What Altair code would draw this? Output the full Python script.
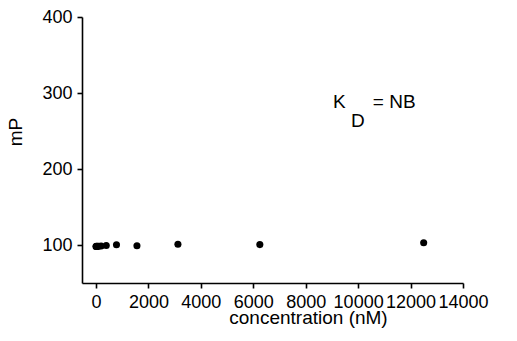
import altair as alt
import pandas as pd

conc = [0, 12.2, 24.4, 48.8, 97.7, 195.3, 390.6, 781.3, 1562.5, 3125, 6250, 12500]
mp = [98.0, 98.2, 98.0, 98.3, 98.2, 98.8, 99.3, 100.4, 99.1, 100.9, 100.5, 103.0]

x_ticks = list(range(0, 14001, 2000))
y_ticks = [100, 200, 300, 400]

ann_x = [9040, 9730, 10560]
ann_y = [280.3, 255.3, 280.3]
ann_t = ["K", "D", "= NB"]

df = pd.DataFrame({"conc": conc, "mp": mp})
ann = pd.DataFrame({"x": ann_x, "y": ann_y, "t": ann_t})

font = "Liberation Sans"

xscale = alt.Scale(domain=[-534, 14000], nice=False, zero=False)
yscale = alt.Scale(domain=[50, 400], nice=False, zero=False)

points = alt.Chart(df).mark_circle(size=50, color="black", opacity=1).encode(
    x=alt.X("conc:Q", scale=xscale, title="concentration (nM)",
            axis=alt.Axis(values=x_ticks, format="d", labelFlush=False,
                          labelOverlap=False, titleX=226, titleY=40,
                          titleAlign="center", titleBaseline="alphabetic")),
    y=alt.Y("mp:Q", scale=yscale, title="mP",
            axis=alt.Axis(values=y_ticks, format="d", titleX=-61, titleY=114.5,
                          titleAlign="center", titleBaseline="alphabetic")),
)

text = alt.Chart(ann).mark_text(align="left", baseline="alphabetic", fontSize=19,
                                font=font, color="black").encode(
    x=alt.X("x:Q", scale=xscale),
    y=alt.Y("y:Q", scale=yscale),
    text="t:N",
)

chart = (points + text).properties(
    width=381, height=266,
    autosize=alt.AutoSizeParams(type="none"),
    padding={"left": 82, "top": 17, "right": 54, "bottom": 58},
    background="white",
).configure_view(stroke=None).configure_axis(
    grid=False,
    domainColor="black",
    domainWidth=1.6,
    tickColor="black",
    tickWidth=1.6,
    tickSize=5,
    labelFont=font,
    labelFontSize=18,
    labelColor="black",
    labelPadding=5,
    titleFont=font,
    titleFontSize=19,
    titleFontWeight="normal",
    titleColor="black",
)

chart.save("out.html", embed_options={"renderer": "svg", "actions": False})
